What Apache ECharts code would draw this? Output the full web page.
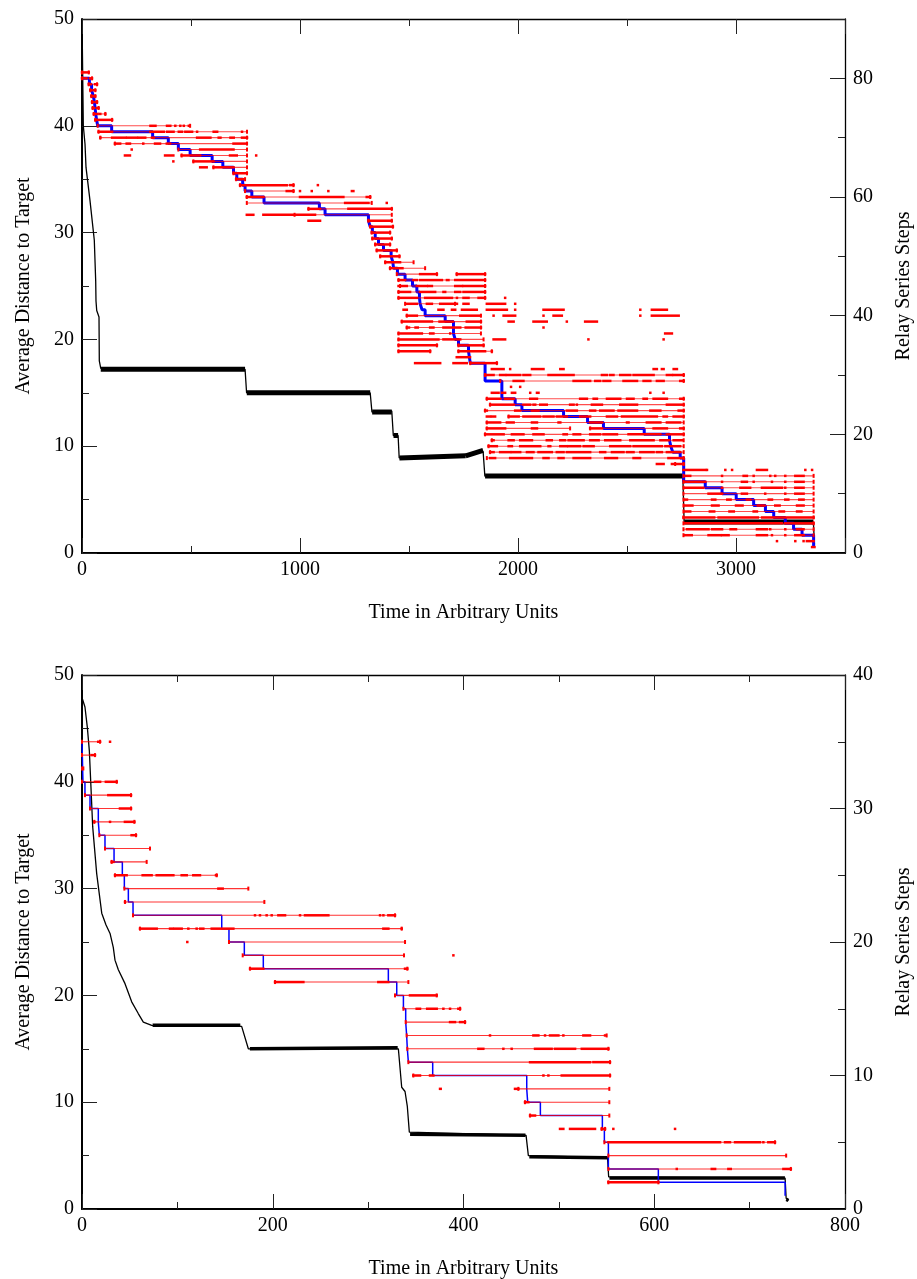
<!DOCTYPE html>
<html><head><meta charset="utf-8">
<script src="https://cdn.jsdelivr.net/npm/echarts/dist/echarts.min.js"></script>
<style>html,body{margin:0;padding:0;background:#fff;overflow:hidden}#c{width:917px;height:1279px}</style>
</head><body><div id="c"></div>
<script>
// ---------------- TOP CHART DATA ----------------
const topBlackT = [0, 1.4, 6, 13.8, 18.4, 36.7, 56.4, 62.8, 64.2, 67.5, 78, 79.4, 85.8, 748, 755, 1322, 1330, 1421, 1428, 1450, 1455, 1790, 1840, 1848, 2756, 2762, 3355, 3360];
const topBlackV = [48, 47.8, 40, 38.3, 36.1, 33, 29.3, 25.5, 23.6, 22.7, 22.1, 18, 17.3, 17.2, 15.0, 15.0, 13.2, 13.3, 11.0, 11.0, 8.9, 9.2, 9.5, 7.2, 7.3, 2.9, 2.9, 0.8];
// noisy plateaus: [t0, v0, t1, v1]
const topBand = [[86,17.2,748,17.2],[756,15.0,1322,15.0],[1331,13.2,1421,13.2],[1429,11.0,1450,11.0],[1456,8.9,1760,9.1],[1760,9.1,1840,9.6],[1849,7.2,2756,7.2],[2763,2.9,3355,2.9]];
const topBlueT = [0,34,44,52,57,60,63,67,72,136,324,396,442,496,597,646,695,710,737,748,779,835,1089,1115,1314,1322,1332,1345,1360,1383,1418,1426,1429,1447,1482,1516,1536,1548,1551,1560,1574,1666,1704,1712,1727,1773,1781,1849,1926,1987,2018,2209,2319,2392,2579,2695,2701,2710,2744,2760,2859,2936,3001,3081,3135,3173,3226,3264,3303,3356];
const topBlueL = [80,79,78,77,76,75,74,73,72,71,70,69,68,67,66,65,64,63,62,61,60,59,58,57,56,55,54,53,52,51,50,49,48,47,46,45,44,43,42,41,40,39,37,36,35,34,32,29,26,25,24,23,22,21,20,19,18,17,16,12,11,10,9,8,7,6,5,4,3,1];
// relay lines: [step, t0, t1]
const topRedLines = [[81,0,31],[80,0,46],[79,31,69],[78,38,61],[77,43,61],[76,46,69],[75,49,76],[74,54,107],[73,61,138],
[72,72,496],[71,76,757],[70,84,757],[69,151,757],[68,442,757],[67,457,757],[66,511,757],[65,603,757],[64,695,757],[63,707,748],
[62,725,970],[61,748,970],[60,756,1322],[59,756,1329],[58,1039,1421],[57,975,1421],[56,1314,1421],[55,1322,1426],[54,1329,1413],[53,1332,1421],[52,1345,1413],[51,1352,1444],[50,1368,1456],[49,1391,1521],[48,1413,1574],
[47,1444,1628],[47,1719,1849],[46,1452,1849],[45,1459,1849],[44,1452,1849],[43,1452,1849],[42,1482,1711],[40,1490,1830],[39,1467,1830],[38,1490,1830],[37,1452,1830],[36,1452,1842],[35,1452,1628],[35,1727,1842],[34,1452,1597],[34,1727,1880],[32,1781,1903],
[30,1849,2760],[29,1918,2760],[26,1857,2760],[25,1872,2760],[24,1849,2760],[23,1957,2760],[22,1857,2760],[21,1857,2239],[21,2331,2760],[20,1849,2760],[19,1880,2760],[18,1865,2760],[17,1872,2760],[16,1857,2760],[15,2721,2760],
[13,2759,3356],[12,2759,3356],[11,2759,3356],[10,2759,3356],[9,2759,3356],[8,2759,3356],[7,2759,3356],[6,2759,3356],[5,2759,3356],[4,2759,3356],[3,2759,3356]];
// relay points (dense clusters): [step, t0, t1]
const topRedDots = [[81,0,31],[80,0,20],[80,38,46],[79,31,40],[79,60,69],[78,38,44],[78,55,61],[77,43,50],[77,58,61],[76,46,52],[76,64,69],[75,49,55],[75,70,76],[74,54,70],[74,80,84],[74,107,107],[73,61,138],
[72,314,337],[72,390,405],[72,428,428],[72,451,451],[72,467,467],[72,490,490],
[71,76,138],[71,314,375],[71,390,420],[71,444,459],[71,474,505],[71,528,528],[71,604,620],[71,734,734],
[70,84,84],[70,138,199],[70,207,252],[70,260,290],[70,321,329],[70,528,589],[70,627,635],[70,681,696],[70,734,757],
[69,151,175],[69,205,220],[69,281,281],[69,335,358],[69,389,404],[69,695,756],
[68,228,228],[68,542,695],[67,197,220],[67,381,419],[67,457,542],[67,679,710],[67,799,799],
[66,419,419],[66,511,603],[65,542,572],[65,603,695],[64,695,756],[63,707,740],
[62,725,939],[62,955,970],[62,1082,1082],[61,939,970],[61,1000,1000],[61,1054,1054],[61,1130,1130],[61,1238,1245],
[60,756,832],[60,1000,1199],[60,1306,1322],[59,1207,1314],[59,1398,1398],[58,1039,1092],[58,1222,1421],
[57,756,786],[57,832,1069],[56,1039,1092],[56,1314,1421],[55,1322,1426],[54,1329,1413],[53,1332,1421],[52,1345,1413],[51,1352,1444],[50,1368,1456],[49,1391,1459],[48,1413,1470],
[47,1551,1628],[47,1719,1849],[46,1452,1482],[46,1520,1536],[46,1551,1651],[46,1674,1681],[46,1712,1849],
[45,1452,1490],[45,1536,1582],[45,1589,1605],[45,1712,1743],[45,1750,1849],
[44,1452,1505],[44,1551,1620],[44,1658,1666],[44,1712,1735],[44,1750,1849],
[43,1452,1536],[43,1574,1697],[43,1720,1720],[43,1750,1773],[43,1819,1849],[43,1941,1941],
[42,1490,1536],[42,1582,1605],[42,1643,1712],[42,1720,1720],[42,1750,1773],[42,1857,1941],[42,1987,1987],
[41,1475,1490],[41,1635,1658],[41,1697,1712],[41,1743,1811],[41,1857,1949],[41,1987,1987],[41,2117,2209],[41,2561,2561],[41,2614,2683],
[40,1490,1536],[40,1735,1827],[40,1888,1888],[40,1934,1987],[40,2117,2117],[40,2163,2201],[40,2561,2561],[40,2614,2737],
[39,1467,1605],[39,1640,1700],[39,1765,1830],[39,1957,1980],[39,2071,2132],[39,2224,2224],[39,2308,2362],
[38,1490,1500],[38,1530,1540],[38,1597,1612],[38,1658,1735],[38,1760,1830],[38,2117,2117],
[37,1452,1559],[37,1597,1612],[37,1689,1689],[37,2675,2706],
[36,1452,1635],[36,1658,1735],[36,1888,1941],[36,2323,2323],[36,2668,2668],
[35,1452,1628],[35,1727,1842],[34,1452,1597],[34,1727,1849],[34,1880,1880],[33,1719,1780],
[32,1528,1643],[32,1704,1765],[32,1781,1903],
[31,1880,1934],[31,1964,1964],[31,2064,2117],[31,2194,2209],[31,2622,2637],[31,2660,2668],[31,2714,2729],
[30,1849,1888],[30,1918,1941],[30,1949,2010],[30,2025,2056],[30,2140,2255],[30,2385,2408],[30,2423,2438],[30,2469,2515],[30,2530,2622],[30,2683,2706],[30,2714,2760],
[29,1980,2025],[29,2255,2331],[29,2354,2377],[29,2392,2423],[29,2484,2546],[29,2576,2607],[29,2637,2668],[29,2744,2760],
[28,1968,1968],[28,2010,2010],[27,1880,1911],[27,1926,1941],[27,1972,1987],[27,2056,2056],[27,2087,2094],[27,2607,2607],[27,2668,2668],
[26,1857,1918],[26,1941,1980],[26,2056,2087],[26,2285,2316],[26,2347,2362],[26,2408,2469],[26,2500,2530],[26,2576,2591],[26,2622,2683],[26,2744,2760],
[25,1872,1980],[25,2025,2056],[25,2071,2079],[25,2102,2132],[25,2239,2255],[25,2270,2270],[25,2339,2385],[25,2469,2546],[25,2683,2760],
[24,1849,1857],[24,1987,2010],[24,2064,2094],[24,2224,2270],[24,2331,2354],[24,2377,2438],[24,2461,2546],[24,2607,2653],[24,2737,2760],
[23,1857,1872],[23,1880,1895],[23,1957,2003],[23,2025,2102],[23,2117,2163],[23,2178,2224],[23,2285,2331],[23,2408,2454],[23,2477,2637],[23,2668,2683],[23,2714,2760],
[22,1857,1918],[22,1949,1980],[22,2064,2087],[22,2186,2194],[22,2331,2385],[22,2500,2507],[22,2591,2653],[22,2683,2744],
[21,1857,1941],[21,2064,2087],[21,2331,2385],[21,2622,2683],[21,2744,2760],
[20,1849,1934],[20,1972,2025],[20,2071,2117],[20,2209,2224],[20,2255,2285],[20,2331,2377],[20,2392,2454],[20,2507,2653],[20,2683,2760],
[19,1880,1888],[19,1957,1980],[19,2010,2064],[19,2132,2155],[19,2194,2216],[19,2232,2301],[19,2331,2370],[19,2400,2469],[19,2515,2622],[19,2653,2691],[19,2714,2752],
[18,1865,1903],[18,1957,1972],[18,2010,2102],[18,2140,2148],[18,2194,2224],[18,2232,2285],[18,2301,2347],[18,2423,2515],[18,2530,2660],[18,2676,2744],
[17,1872,1888],[17,1918,1964],[17,1972,2010],[17,2041,2071],[17,2094,2155],[17,2178,2209],[17,2224,2331],[17,2377,2400],[17,2431,2484],[17,2500,2530],[17,2561,2622],[17,2637,2660],[17,2683,2744],
[16,1872,1895],[16,1964,2064],[16,2117,2140],[16,2186,2209],[16,2255,2331],[16,2400,2454],[16,2530,2560],[16,2690,2760],
[15,2637,2668],[15,2706,2760],
[14,2759,2859],[14,2867,2867],[14,2951,2951],[14,2982,2982],[14,3096,3142],[14,3318,3318],[14,3349,3349],
[13,2767,2790],[13,2936,2936],[13,3035,3050],[13,3081,3081],[13,3157,3157],[13,3180,3180],[13,3226,3226],[13,3272,3310],
[12,2767,2859],[12,2936,2936],[12,3027,3050],[12,3081,3081],[12,3165,3165],[12,3226,3226],[12,3272,3310],
[11,2767,2850],[11,2936,2936],[11,3020,3065],[11,3119,3211],[11,3226,3226],[11,3272,3310],
[10,2874,2929],[10,2936,2936],[10,3027,3050],[10,3134,3134],[10,3226,3226],[10,3272,3310],
[9,2767,2775],[9,2890,2905],[9,2960,2975],[9,3050,3065],[9,3150,3165],[9,3226,3240],[9,3290,3310],
[8,2767,2800],[8,2890,2920],[8,3000,3030],[8,3100,3130],[8,3180,3200],[8,3280,3310],
[7,2767,2790],[7,2880,2900],[7,2970,2990],[7,3081,3096],[7,3200,3220],[7,3280,3300],
[6,2759,2900],[6,2920,3100],[6,3120,3356],[5,2767,3050],[5,3060,3210],[5,3226,3356],
[4,2775,2874],[4,2890,2936],[4,2975,3000],[4,3096,3142],[4,3157,3157],[4,3226,3226],[4,3280,3310],
[3,2767,2797],[3,2874,2929],[3,2936,2966],[3,3096,3142],[3,3165,3165],[3,3226,3226],[3,3272,3310],
[2,3188,3188],[2,3272,3272],[2,3310,3310],[2,3325,3356],[1,3349,3360]];

// ---------------- BOTTOM CHART DATA ----------------
const botBlackT = [0, 0.3, 3.1, 5.6, 7.7, 9.1, 11.2, 15.4, 20.7, 25.2, 29.4, 32.8, 34.6, 38.1, 45.1, 52.1, 59, 64.3, 73.1, 167.4, 174.4, 331.7, 335.2, 338.7, 341.1, 343.2, 465.6, 468, 551, 552.2, 737.2, 738.3, 740.7];
const botBlackV = [48, 47.8, 47.0, 45.1, 42.9, 40.1, 35.8, 31.4, 27.7, 26.6, 25.8, 24.5, 23.3, 22.4, 21.1, 19.4, 18.3, 17.5, 17.2, 17.1, 15.0, 15.0, 11.4, 11.0, 9.6, 7.2, 6.9, 5.0, 4.8, 3.0, 2.9, 1.0, 0.8];
const botBand = [[74,17.2,166,17.2],[176,15.0,331,15.1],[344,7.0,465,6.9],[469,4.9,551,4.8],[553,2.9,737,2.9],[738.5,0.9,740.7,0.8]];
const botBlueT = [0,1,3.1,8.4,17.1,18.2,24.1,33.6,42.3,44.4,48.6,53.5,146.5,154.1,170.2,190.1,321.2,330,337,339.4,340.4,341.1,342.2,367.7,466.3,467.3,480.6,545.6,547.7,551.9,604.3,737.2];
const botBlueL = [35,32,31,30,29,28,27,26,25,24,23,22,21,20,19,18,17,16,15,14,13,12,11,10,9,8,7,6,5,3,2,1];
const botRedLines = [[35,0,18.9],[34,0,13.6],[33,0,1.4],[32,0,36.4],[31,3.1,51.4],[30,8.4,51.4],[29,12.9,54.9],[28,18.2,56.6],[27,24.1,71.3],[26,31.1,67.8],[25,34.6,141.2],[24,44.4,174.4],[23,45.1,191.2],[22,53.5,328.2],[21,60.8,335.2],[20,154.1,338.7],[19,168.5,337.6],[18,176.2,341.1],[17,202.4,342.2],[16,328.2,371.9],[15,337,396.4],[14,339.4,401.6],[13,340.4,550.1],[12,341.1,551.9],[11,342.2,553.6],[10,347.4,553.6],[9,457.5,552.9],[8,464.5,552.9],[7,469.8,552.9],[6,544.9,548.4],[5,547.7,726.6],[4,551.9,738.3],[3,551.9,743.2],[2,551.9,604.3]];
const botRedDots = [[35,17,19],[35,29.4,29.4],[34,10,13.6],[32,13.6,19],[32,25,36.4],[31,27.6,51.4],[30,39.8,51.4],[29,12.9,12.9],[29,29.4,29.4],[29,45,54.9],[28,52,56.6],[26,31.1,33],
[25,34.6,46.8],[25,63.6,73],[25,78.3,95.8],[25,104.5,109.8],[25,116.7,123.7],[25,140.5,141.2],[24,143,147.5],[23,45.1,45.1],
[22,181.4,181.4],[22,186.6,186.6],[22,193.6,193.6],[22,198.9,198.9],[22,205.9,212.9],[22,228.6,228.6],[22,233.8,258.3],[22,312.5,312.5],[22,316,316],[22,321.2,328.2],
[21,60.8,78.3],[21,92.3,95],[21,97,104.5],[21,111.5,111.5],[21,120.2,120.2],[21,124,127.2],[21,136,158.7],[21,316,321.2],[21,335.2,335.2],
[20,110.4,110.4],[19,389.4,389.4],[18,176.2,190.1],[18,338.7,341.1],[17,202.4,232.1],[17,310.7,321.2],[16,343.9,371.9],
[15,350.9,354.4],[15,361.9,371.9],[15,378.9,378.9],[15,385.9,385.9],[15,394.6,396.4],[14,385.9,391.1],[14,396.4,401.6],
[13,427.8,427.8],[13,473.3,478.5],[13,485.5,485.5],[13,490.7,499.5],[13,504.7,504.7],[13,525.7,532.7],[13,548.4,548.4],
[12,415.6,420.8],[12,441.8,441.8],[12,450.5,450.5],[12,475,492.4],[12,495.9,517],[12,524,551.9],
[11,469.8,532.7],[11,536.2,553.6],[10,347.4,354.4],[10,364.9,368.4],[10,483.8,483.8],[10,489,489],[10,503,553.6],
[9,375.4,376.1],[9,454,457.5],[8,464.5,468],[7,469.8,475],
[6,501.2,504.7],[6,511.7,537.9],[6,544.9,548.4],[6,557.1,557.1],[6,621.8,621.8],
[5,551.9,669],[5,674.2,679.4],[5,684.7,710.9],[5,714.4,714.4],[5,719.6,726.6],
[3,623.6,623.6],[3,660.3,663.8],[3,677.7,680.2],[3,735.4,743.2],[2,551.9,604.3]];

// ---------------- RENDERING ----------------
const FONT = 'Liberation Serif';
const lab = {fontFamily: FONT, fontSize: 20, color: '#000'};
const zip = (a, b) => a.map((v, i) => [v, b[i]]);

function xAxes(gi, max, major, minor) {
  const base = {type: 'value', gridIndex: gi, min: 0, max: max, splitLine: {show: false}};
  const tick = (len) => ({show: true, inside: true, length: len, lineStyle: {color: '#222', width: 1}});
  return [
    Object.assign({}, base, {position: 'bottom', interval: major,
      axisLine: {show: true, onZero: false, lineStyle: {color: '#000', width: 2}},
      axisTick: tick(15),
      axisLabel: Object.assign({show: true, margin: 7, formatter: v => (v % major === 0 ? String(v) : '')}, lab),
      name: 'Time in Arbitrary Units', nameLocation: 'middle', nameGap: 50, nameTextStyle: Object.assign({}, lab)}),
    Object.assign({}, base, {position: 'bottom', interval: minor, axisLine: {show: false, onZero: false}, axisTick: tick(7), axisLabel: {show: false}}),
    Object.assign({}, base, {position: 'top', interval: major,
      axisLine: {show: true, onZero: false, lineStyle: {color: '#000', width: 1.3}}, axisTick: tick(15), axisLabel: {show: false}}),
    Object.assign({}, base, {position: 'top', interval: minor, axisLine: {show: false, onZero: false}, axisTick: tick(7), axisLabel: {show: false}})
  ];
}
function yAxes(gi, rmax, rmajor, rminor) {
  const tick = (len) => ({show: true, inside: true, length: len, lineStyle: {color: '#222', width: 1}});
  const L = {type: 'value', gridIndex: gi, min: 0, max: 50, splitLine: {show: false}, position: 'left'};
  const R = {type: 'value', gridIndex: gi, min: 0, max: rmax, splitLine: {show: false}, position: 'right'};
  return [
    Object.assign({}, L, {interval: 10, axisLine: {show: true, onZero: false, lineStyle: {color: '#000', width: 2}}, axisTick: tick(15),
      axisLabel: Object.assign({show: true, margin: 8}, lab),
      name: 'Average Distance to Target', nameLocation: 'middle', nameRotate: 90, nameGap: 48, nameTextStyle: Object.assign({}, lab)}),
    Object.assign({}, L, {interval: 5, axisLine: {show: false, onZero: false}, axisTick: tick(7), axisLabel: {show: false}}),
    Object.assign({}, R, {interval: rmajor, axisLine: {show: true, onZero: false, lineStyle: {color: '#000', width: 1.3}}, axisTick: tick(15),
      axisLabel: Object.assign({show: true, margin: 8, formatter: v => (v % rmajor === 0 ? String(v) : '')}, lab),
      name: 'Relay Series Steps', nameLocation: 'middle', nameRotate: 90, nameGap: 49, nameTextStyle: Object.assign({}, lab)}),
    Object.assign({}, R, {interval: rminor, axisLine: {show: false, onZero: false}, axisTick: tick(7), axisLabel: {show: false}})
  ];
}

function bandSeries(xi, yi, data, w) {
  return {type: 'custom', xAxisIndex: xi, yAxisIndex: yi, z: 2, silent: true,
    encode: {x: [0, 2], y: [1, 3]}, data: data,
    renderItem: (p, api) => {
      const a = api.coord([api.value(0), api.value(1)]);
      const b = api.coord([api.value(2), api.value(3)]);
      return {type: 'line', shape: {x1: a[0], y1: a[1], x2: b[0], y2: b[1]}, style: {stroke: '#000', lineWidth: w}};
    }};
}
function redLineSeries(xi, yi, data, color) {
  return {type: 'custom', xAxisIndex: xi, yAxisIndex: yi, z: 4, silent: true,
    encode: {x: [1, 2], y: 0}, data: data,
    renderItem: (p, api) => {
      const a = api.coord([api.value(1), api.value(0)]);
      const b = api.coord([api.value(2), api.value(0)]);
      return {type: 'group', children: [
        {type: 'line', shape: {x1: a[0], y1: a[1], x2: b[0], y2: b[1]}, style: {stroke: color, lineWidth: 1.1}},
        {type: 'rect', shape: {x: a[0] - 1, y: a[1] - 2, width: 2, height: 4}, style: {fill: '#ff0000'}},
        {type: 'rect', shape: {x: b[0] - 1, y: b[1] - 2, width: 2, height: 4}, style: {fill: '#ff0000'}}
      ]};
    }};
}
function redDotSeries(xi, yi, data) {
  return {type: 'custom', xAxisIndex: xi, yAxisIndex: yi, z: 5, silent: true,
    encode: {x: [1, 2], y: 0}, data: data,
    renderItem: (p, api) => {
      const a = api.coord([api.value(1), api.value(0)]);
      const b = api.coord([api.value(2), api.value(0)]);
      const w = Math.max(2.5, b[0] - a[0] + 2.5);
      return {type: 'rect', shape: {x: a[0] - 1.25, y: a[1] - 1.25, width: w, height: 2.5}, style: {fill: '#ff0000'}};
    }};
}

const chart = echarts.init(document.getElementById('c'), null, {renderer: 'canvas'});
chart.setOption({
  animation: false,
  backgroundColor: '#fff',
  grid: [
    {left: 82, top: 19, width: 763, height: 534, containLabel: false, outerBoundsMode: 'none'},
    {left: 82, top: 675, width: 763, height: 534, containLabel: false, outerBoundsMode: 'none'}
  ],
  xAxis: xAxes(0, 3500, 1000, 500).concat(xAxes(1, 800, 200, 100)),
  yAxis: yAxes(0, 90, 20, 10).concat(yAxes(1, 40, 10, 5)),
  series: [
    {type: 'line', xAxisIndex: 0, yAxisIndex: 0, z: 2, showSymbol: false, silent: true,
      data: zip(topBlackT, topBlackV), lineStyle: {color: '#000', width: 1.3}},
    bandSeries(0, 0, topBand, 5),
    {type: 'line', xAxisIndex: 0, yAxisIndex: 2, z: 3, step: 'end', showSymbol: false, silent: true,
      data: zip(topBlueT, topBlueL), lineStyle: {color: '#0000ff', width: 3}},
    redLineSeries(0, 2, topRedLines, 'rgba(255,0,0,0.7)'),
    redDotSeries(0, 2, topRedDots),

    {type: 'line', xAxisIndex: 4, yAxisIndex: 4, z: 2, showSymbol: false, silent: true,
      data: zip(botBlackT, botBlackV), lineStyle: {color: '#000', width: 1.3}},
    bandSeries(4, 4, botBand, 3.5),
    {type: 'line', xAxisIndex: 4, yAxisIndex: 6, z: 3, step: 'end', showSymbol: false, silent: true,
      data: zip(botBlueT, botBlueL), lineStyle: {color: '#0000ff', width: 1.5}},
    redLineSeries(4, 6, botRedLines, 'rgba(255,0,0,0.8)'),
    redDotSeries(4, 6, botRedDots)
  ]
});
</script></body></html>
